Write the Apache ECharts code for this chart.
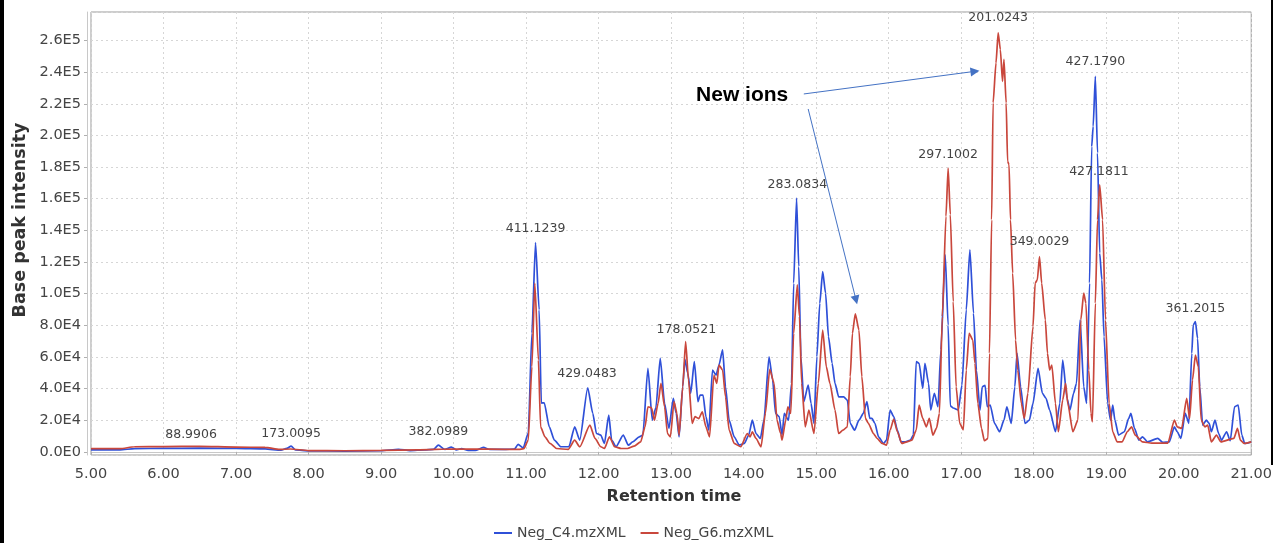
<!DOCTYPE html>
<html>
<head>
<meta charset="utf-8">
<script src="https://cdn.jsdelivr.net/npm/echarts@6/dist/echarts.min.js"></script>
<style>
  html, body { margin: 0; padding: 0; background: #fff; }
  #chart { width: 1275px; height: 543px; }
</style>
</head>
<body>
<div id="chart"></div>
<script>
// Base peak chromatograms, [retention time (min), intensity]
const seriesNames = ['Neg_C4.mzXML', 'Neg_G6.mzXML'];

const c4Trace = [
  [5.00,1200],[5.40,1300],[5.60,2000],[6.00,2200],[6.50,2300],[7.00,2200],[7.40,1900],[7.62,1000],[7.70,2200],[7.76,3600],[7.82,1200],
  [8.00,600],[8.50,500],[9.00,700],[9.24,1600],[9.40,800],[9.60,1200],[9.72,1500],[9.79,4200],[9.88,1500],[9.97,3000],[10.04,1200],
  [10.11,2000],[10.20,900],[10.30,900],[10.41,2800],[10.50,1500],[10.70,1500],[10.84,1800],[10.89,4700],[10.96,2500],[11.03,11800],
  [11.08,75000],[11.13,132300],[11.18,89700],[11.21,30800],[11.25,31000],[11.32,15800],[11.39,7400],[11.48,3200],[11.59,3200],
  [11.67,15800],[11.74,7400],[11.85,40500],[11.92,24300],[11.97,11600],[12.03,10600],[12.08,5300],[12.14,23200],[12.18,7400],
  [12.24,3200],[12.34,10600],[12.41,4200],[12.47,6300],[12.56,9500],[12.61,10600],[12.68,52800],[12.74,20000],[12.79,28000],
  [12.85,59100],[12.91,30600],[12.97,14800],[13.03,33800],[13.07,24300],[13.11,9500],[13.16,41100],[13.19,58500],[13.23,49600],
  [13.27,37000],[13.32,57000],[13.37,31700],[13.40,35900],[13.44,35900],[13.48,22200],[13.52,13700],[13.57,51700],[13.62,48500],
  [13.66,54900],[13.71,64400],[13.75,41100],[13.80,20000],[13.87,9500],[13.94,4200],[14.01,5300],[14.07,10600],[14.12,20000],
  [14.17,11600],[14.23,8500],[14.28,20000],[14.35,60100],[14.40,45400],[14.44,24300],[14.49,22200],[14.53,10600],[14.56,24300],
  [14.62,20000],[14.66,43300],[14.69,106600],[14.73,160400],[14.76,117100],[14.79,60100],[14.83,31700],[14.89,42200],[14.93,30600],
  [14.97,18000],[15.01,60100],[15.05,93900],[15.09,113900],[15.13,100300],[15.17,72800],[15.22,56000],[15.26,43300],[15.31,34800],
  [15.38,34800],[15.43,32700],[15.47,18000],[15.53,13700],[15.59,20000],[15.65,24300],[15.70,31700],[15.74,21100],[15.77,21100],
  [15.81,18000],[15.86,9500],[15.93,5300],[15.97,7400],[16.02,26400],[16.07,22200],[16.12,13700],[16.17,6300],[16.23,6300],
  [16.30,7400],[16.34,10600],[16.38,57000],[16.42,55900],[16.47,40100],[16.50,55900],[16.55,43300],[16.58,26400],[16.63,37000],
  [16.68,28500],[16.72,64400],[16.78,124500],[16.82,80000],[16.85,29000],[16.89,27700],[16.96,26400],[17.01,42000],[17.07,89700],
  [17.12,127700],[17.17,87600],[17.21,51700],[17.26,26400],[17.29,41100],[17.33,42000],[17.36,28500],[17.40,29600],[17.46,18000],
  [17.53,12700],[17.59,20000],[17.63,28500],[17.69,18000],[17.74,41100],[17.77,62300],[17.82,41100],[17.88,18000],[17.94,20000],
  [17.99,30600],[18.06,52800],[18.12,37000],[18.17,33800],[18.22,26400],[18.30,12700],[18.36,30600],[18.40,58000],[18.46,33800],
  [18.50,26400],[18.55,37000],[18.59,43300],[18.64,83400],[18.69,41100],[18.73,30600],[18.77,106600],[18.80,193000],[18.82,205700],
  [18.85,237400],[18.88,188900],[18.91,125600],[18.94,108700],[18.97,72800],[19.02,30600],[19.06,20000],[19.09,29600],[19.12,20000],
  [19.17,10600],[19.25,12700],[19.31,21100],[19.34,24300],[19.39,14800],[19.45,7400],[19.50,9500],[19.57,6300],[19.71,8500],
  [19.78,6000],[19.87,6300],[19.94,15800],[19.98,12700],[20.03,8500],[20.09,24300],[20.14,18000],[20.18,62300],[20.20,80200],
  [20.23,82300],[20.26,71700],[20.29,41100],[20.33,16900],[20.38,20000],[20.42,18000],[20.45,12700],[20.50,20000],[20.55,11600],
  [20.59,7400],[20.66,12700],[20.71,7000],[20.77,28500],[20.82,29600],[20.87,10600],[20.91,5300],[21.00,6300]
];

const g6Trace = [
  [5.00,2000],[5.40,2000],[5.60,3200],[6.00,3300],[6.50,3500],[7.00,3000],[7.40,2800],[7.60,1500],[7.75,1800],[8.00,800],[8.50,700],
  [9.00,900],[9.50,1200],[10.00,1800],[10.50,1700],[10.90,1500],[10.97,2000],[11.03,7400],[11.08,53800],[11.12,106600],[11.17,58000],
  [11.20,15800],[11.26,9500],[11.33,5300],[11.42,2100],[11.58,1500],[11.67,7400],[11.74,3200],[11.88,16900],[11.95,8500],[12.03,3200],
  [12.08,2100],[12.15,9500],[12.22,3200],[12.31,2100],[12.40,2100],[12.49,3600],[12.58,6300],[12.64,15800],[12.68,28500],[12.73,27800],
  [12.77,20000],[12.82,30600],[12.86,43300],[12.91,28500],[12.95,11600],[12.99,9500],[13.04,31700],[13.08,24300],[13.11,10600],
  [13.16,41100],[13.20,69600],[13.24,45400],[13.29,18000],[13.33,22200],[13.38,21000],[13.43,25300],[13.48,15800],[13.53,9500],
  [13.59,48500],[13.63,43300],[13.66,54900],[13.71,51700],[13.75,34800],[13.80,13700],[13.87,5300],[13.96,3200],[14.05,11600],
  [14.09,9500],[14.12,12700],[14.17,8500],[14.24,3200],[14.30,24300],[14.36,52100],[14.42,43300],[14.46,20000],[14.51,11600],
  [14.53,7400],[14.58,20000],[14.61,28500],[14.65,24300],[14.69,74900],[14.74,105500],[14.77,85500],[14.80,43300],[14.85,15800],
  [14.90,26400],[14.97,11600],[15.03,43300],[15.09,77000],[15.14,53800],[15.19,43300],[15.26,26400],[15.31,11600],[15.37,13700],
  [15.43,15800],[15.47,47500],[15.50,74900],[15.54,87200],[15.59,77000],[15.63,47500],[15.68,21100],[15.72,18000],[15.79,11600],
  [15.84,8500],[15.91,5300],[15.97,4200],[16.02,13700],[16.07,20700],[16.12,12700],[16.18,5300],[16.25,6300],[16.32,7400],
  [16.38,13700],[16.42,29500],[16.47,21100],[16.52,15800],[16.56,21100],[16.61,10600],[16.66,15000],[16.70,24300],[16.74,85500],
  [16.79,148800],[16.82,179400],[16.85,150000],[16.89,95000],[16.93,41100],[16.98,18000],[17.03,14000],[17.07,51700],[17.11,74900],
  [17.16,70700],[17.19,56000],[17.23,30600],[17.28,14800],[17.32,7000],[17.37,8500],[17.39,62300],[17.42,146700],[17.44,220500],
  [17.48,245800],[17.51,264900],[17.54,254300],[17.57,234200],[17.59,248000],[17.62,220500],[17.64,183600],[17.66,181500],
  [17.68,146700],[17.71,112900],[17.75,70700],[17.78,51700],[17.83,30600],[17.87,21100],[17.92,37000],[17.99,79100],[18.02,106600],
  [18.05,108700],[18.08,123400],[18.11,106600],[18.16,83400],[18.19,62300],[18.22,51700],[18.25,54900],[18.30,30600],[18.34,12700],
  [18.40,32700],[18.44,43300],[18.47,30600],[18.54,12700],[18.61,20000],[18.65,83400],[18.69,100300],[18.72,93900],[18.76,51700],
  [18.79,24300],[18.81,19000],[18.85,93900],[18.88,146700],[18.91,168800],[18.95,146700],[18.99,83400],[19.04,30600],[19.09,12700],
  [19.15,6300],[19.22,6300],[19.29,12700],[19.35,15800],[19.40,10600],[19.50,6300],[19.63,5500],[19.85,5500],[19.94,20000],
  [19.98,15800],[20.04,14800],[20.11,33800],[20.15,21100],[20.19,45400],[20.23,61200],[20.27,53800],[20.31,20000],[20.36,15800],
  [20.40,16900],[20.45,6300],[20.52,10600],[20.58,6300],[20.76,8500],[20.81,14800],[20.85,7400],[20.90,5300],[21.00,6300]
];

// m/z annotations placed above their peaks: text, retention time, label height
const peakLabels  = ['88.9906','173.0095','382.0989','411.1239','429.0483','178.0521','283.0834','297.1002','201.0243','427.1790','427.1811','349.0029','361.2015'];
const peakTimes   = [6.38, 7.76, 9.79, 11.13, 11.84, 13.21, 14.74, 16.82, 17.51, 18.85, 18.90, 18.08, 20.23];
const peakHeights = [10600, 11600, 12700, 140700, 49200, 77400, 168800, 187800, 274500, 246700, 177000, 132700, 90300];

// "New ions" callout: label position and two arrows (start, end)
const calloutText = 'New ions';
const calloutPos = [13.98, 225200];
const calloutArrows = [
  [[14.83, 226200], [17.19, 240500]],
  [[14.89, 216700], [15.55, 96000]]
];

// axis ranges
const xRange = [5, 21];
const yRange = [-2000, 278000];
const yStep = 20000;

const FONT = 'DejaVu Sans';
const fmtE = v => {
  if (Math.abs(v) < 1e-9) return '0.0E0';
  const e = Math.floor(Math.log10(Math.abs(v)) + 1e-9);
  return (v / Math.pow(10, e)).toFixed(1) + 'E' + e;
};

const chart = echarts.init(document.getElementById('chart'), null, { renderer: 'canvas' });

const labelPoints = peakLabels.map((txt, i) => ({
  name: txt,
  coord: [peakTimes[i], peakHeights[i]],
  label: { color: '#444', fontSize: 12.5, fontFamily: FONT }
}));
labelPoints.push({
  name: calloutText,
  coord: calloutPos,
  label: { color: '#000', fontSize: 21, fontWeight: 'bold', fontFamily: 'Liberation Sans' }
});

chart.setOption({
  animation: false,
  backgroundColor: '#fff',
  grid: {
    left: 91, right: 19, top: 12, bottom: 88,
    show: true, borderColor: '#9a9a9a', borderWidth: 1, backgroundColor: '#fff'
  },
  legend: {
    data: seriesNames,
    left: 489, top: 521,
    icon: 'rect', itemWidth: 18, itemHeight: 2, itemGap: 15,
    textStyle: { color: '#444', fontSize: 14, fontFamily: FONT }
  },
  xAxis: {
    type: 'value', min: xRange[0], max: xRange[1], interval: 1,
    offset: 5,
    axisLine: { show: true, lineStyle: { color: '#c8c8c8', width: 1 } },
    axisTick: { show: true, length: 3, lineStyle: { color: '#b0b0b0' } },
    axisLabel: { formatter: v => v.toFixed(2), color: '#444', fontSize: 14.5, fontFamily: FONT, margin: 7 },
    splitLine: { show: true, lineStyle: { color: '#d6d6d6', type: [2, 3], width: 1 } }
  },
  yAxis: {
    type: 'value', min: yRange[0], max: yRange[1],
    minInterval: yStep, maxInterval: yStep, splitNumber: 14,
    offset: 4,
    axisLine: { show: true, lineStyle: { color: '#c8c8c8', width: 1 } },
    axisTick: { show: true, length: 3, lineStyle: { color: '#b0b0b0' } },
    axisLabel: {
      formatter: v => (Math.abs(v % yStep) < 1 ? fmtE(v) : ''),
      color: '#444', fontSize: 14.5, fontFamily: FONT, margin: 6,
      showMinLabel: false, showMaxLabel: false
    },
    splitLine: { show: true, lineStyle: { color: '#d6d6d6', type: [2, 3], width: 1 } }
  },
  series: [
    {
      name: seriesNames[0], type: 'line', data: c4Trace,
      symbol: 'none', smooth: 0.2, smoothMonotone: 'x',
      lineStyle: { color: '#2f50d8', width: 1.7 },
      itemStyle: { color: '#2f50d8' },
      markLine: {
        silent: true, symbol: ['none', 'triangle'], symbolSize: 9,
        label: { show: false },
        lineStyle: { color: '#4472c4', width: 1, type: 'solid' },
        itemStyle: { color: '#4472c4' },
        data: calloutArrows.map(a => [{ coord: a[0] }, { coord: a[1] }])
      }
    },
    {
      name: seriesNames[1], type: 'line', data: g6Trace,
      symbol: 'none', smooth: 0.2, smoothMonotone: 'x',
      lineStyle: { color: '#c9473c', width: 1.7 },
      itemStyle: { color: '#c9473c' },
      markPoint: {
        silent: true, symbol: 'rect', symbolSize: 1,
        itemStyle: { color: 'rgba(0,0,0,0)' },
        label: { show: true, position: 'inside', formatter: '{b}' },
        data: labelPoints
      }
    }
  ],
  graphic: [
    { type: 'rect', shape: { x: 0, y: 0, width: 4, height: 543 }, style: { fill: '#000' } },
    { type: 'rect', shape: { x: 1271, y: 0, width: 2, height: 465 }, style: { fill: '#000' } },
    {
      type: 'text', x: 20, y: 220, rotation: Math.PI / 2,
      style: {
        text: 'Base peak intensity', fill: '#333',
        font: 'bold 17.5px "DejaVu Sans"',
        align: 'center', verticalAlign: 'middle',
        textAlign: 'center', textVerticalAlign: 'middle'
      }
    },
    {
      type: 'text', x: 674, y: 497,
      style: {
        text: 'Retention time', fill: '#333',
        font: 'bold 16px "DejaVu Sans"',
        align: 'center', verticalAlign: 'middle',
        textAlign: 'center', textVerticalAlign: 'middle'
      }
    }
  ]
});
</script>
</body>
</html>
